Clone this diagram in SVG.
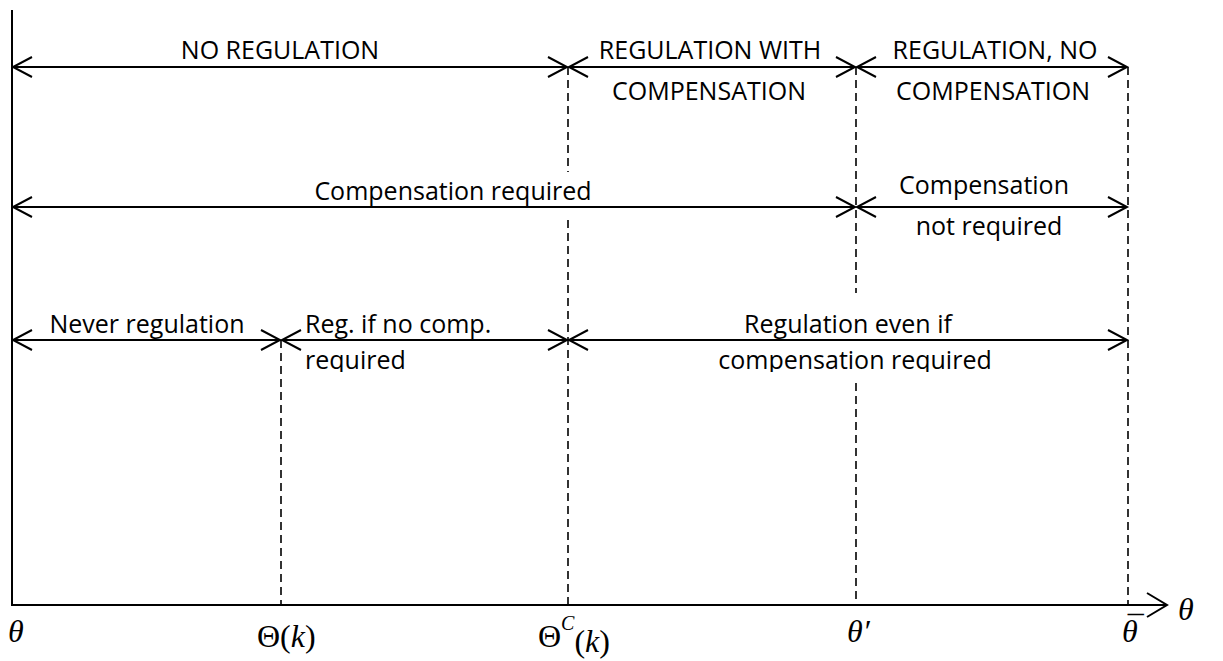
<svg xmlns="http://www.w3.org/2000/svg" width="1223" height="661" viewBox="0 0 1223 661">
<style>
.ax{stroke:#000;stroke-width:2;fill:none}
.ar{stroke:#000;stroke-width:2;fill:none;marker-start:url(#ah);marker-end:url(#ah)}
.dl{stroke:#000;stroke-width:1.6;stroke-dasharray:8 5;fill:none}
.t{font-family:"Open Sans","Liberation Sans",sans-serif;font-size:25px;fill:#000;text-anchor:middle}
.tl{font-family:"Open Sans","Liberation Sans",sans-serif;font-size:25px;fill:#000}
.m{font-family:"Liberation Serif","DejaVu Serif",serif;font-size:32px;fill:#000}
.i{font-style:italic}
.n{font-style:normal}
</style>
<defs>
<marker id="ah" viewBox="-21 -12 23 24" refX="0" refY="0" markerWidth="23" markerHeight="24" markerUnits="userSpaceOnUse" orient="auto-start-reverse" overflow="visible">
<path d="M-19,-10 L0,0 L-19,10" fill="none" stroke="#000" stroke-width="2"/>
</marker>
<marker id="axh" viewBox="-24 -14 26 28" refX="0" refY="0" markerWidth="26" markerHeight="28" markerUnits="userSpaceOnUse" orient="auto" overflow="visible">
<path d="M-20,-12 L0,0 L-20,12" fill="none" stroke="#000" stroke-width="2"/>
</marker>
<clipPath id="cl"><rect x="0" y="300" width="1223" height="72"/></clipPath>
</defs>
<g id="axes">
<line class="ax" x1="12" y1="10" x2="12" y2="606"/>
<line class="ax" x1="11" y1="605" x2="1167" y2="605" marker-end="url(#axh)"/>
</g>
<g id="connectors">
<path class="dl" d="M281,340 V605"/>
<path class="dl" d="M568,67 V172 M568,220 V605"/>
<path class="dl" d="M856,67 V293 M856,383 V605"/>
<path class="dl" d="M1128,67 V605"/>
<path class="ar" d="M13,67 H567"/>
<path class="ar" d="M569,67 H855"/>
<path class="ar" d="M857,67 H1127"/>
<path class="ar" d="M13,207 H855"/>
<path class="ar" d="M857,207 H1127"/>
<path class="ar" d="M13,340 H280"/>
<path class="ar" d="M282,340 H567"/>
<path class="ar" d="M569,340 H1127"/>
</g>
<g id="row1">
<text class="t" x="280" y="59">NO REGULATION</text>
<text class="t" x="710" y="59">REGULATION WITH</text>
<text class="t" x="709" y="100">COMPENSATION</text>
<text class="t" x="995" y="59">REGULATION, NO</text>
<text class="t" x="993" y="100">COMPENSATION</text>
</g>
<g id="row2">
<text class="t" x="453" y="200">Compensation required</text>
<text class="t" x="984" y="194">Compensation</text>
<text class="t" x="989" y="235">not required</text>
</g>
<g id="row3">
<text class="t" x="147" y="333">Never regulation</text>
<text class="tl" x="305" y="333">Reg. if no comp.</text>
<text class="tl" x="305" y="369" clip-path="url(#cl)">required</text>
<text class="t" x="848" y="333">Regulation even if</text>
<text class="t" x="855" y="369" clip-path="url(#cl)">compensation required</text>
</g>
<g id="labels">
<text class="m i" x="8" y="642">θ</text>
<text class="m" x="257" y="647">Θ(<tspan class="i">k</tspan>)</text>
<text class="m" x="538" y="647">Θ<tspan class="i" font-size="20" dy="-17">C</tspan><tspan dy="22">(</tspan><tspan class="i">k</tspan>)</text>
<text class="m i" x="847" y="642">θ′</text>
<text class="m i" x="1122" y="642">θ<tspan class="n" dx="-10" dy="-4">¯</tspan></text>
<text class="m i" x="1178" y="620">θ</text>
</g>
</svg>
